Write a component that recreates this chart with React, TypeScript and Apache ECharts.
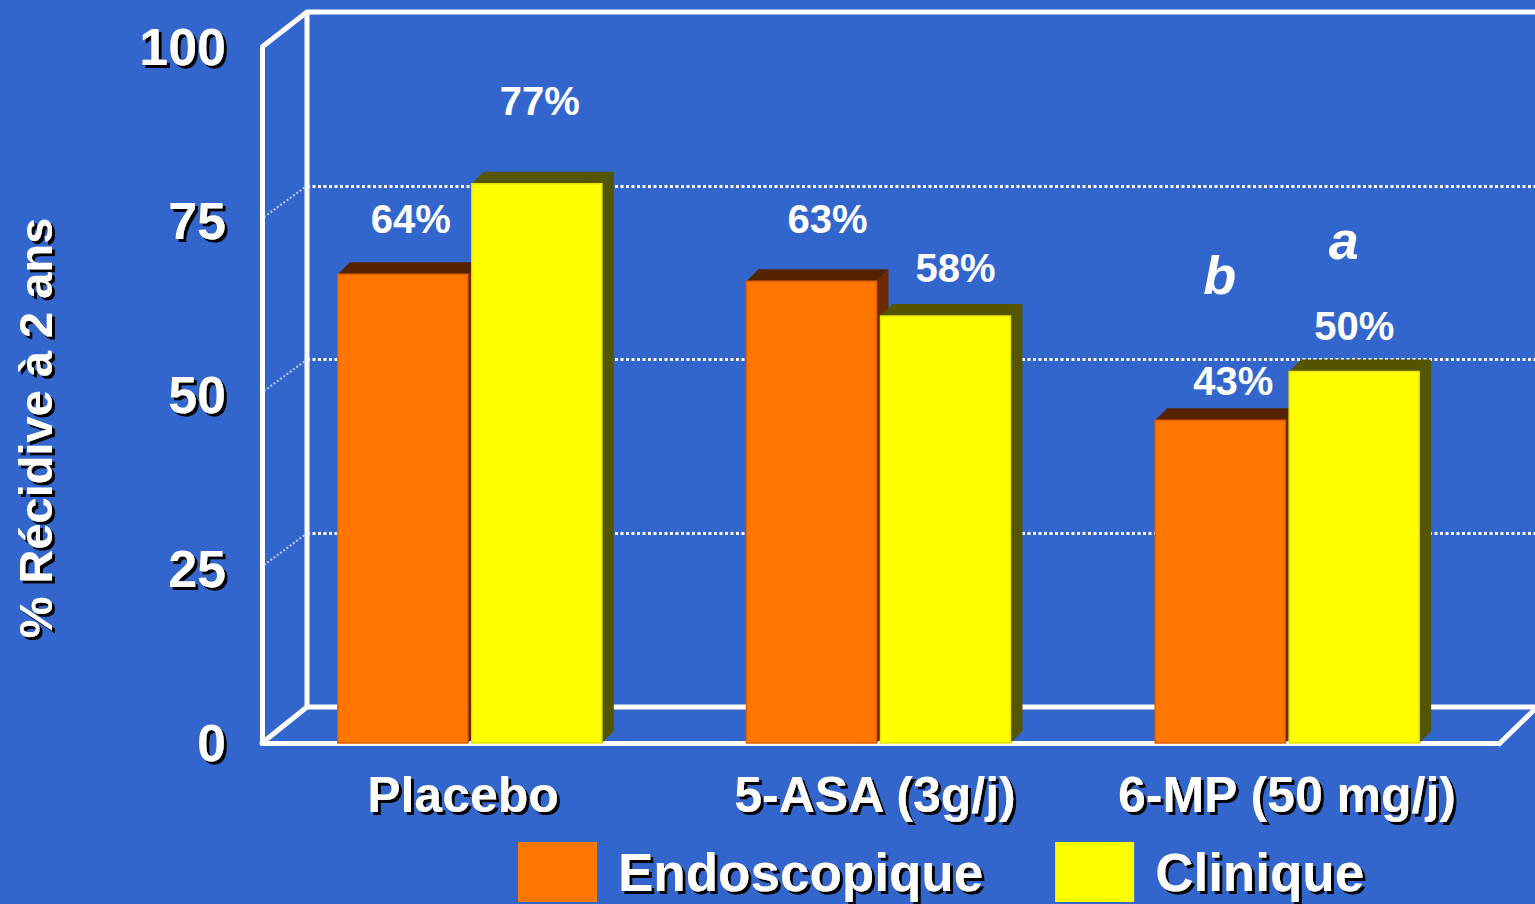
import React, { useEffect, useRef } from "react";
import * as echarts from "echarts";

// ---- data ----
const categories = ["Placebo", "5-ASA (3g/j)", "6-MP (50 mg/j)"];
const seriesNames = ["Endoscopique", "Clinique"];
const endoscopique = [64, 63, 43];
const clinique = [77, 58, 50];
const yMin = 0;
const yMax = 100;
const yInterval = 25;
const yAxisTitle = "% Récidive à 2 ans";
const annotations = [
  { text: "b", category: 2, series: 0 },
  { text: "a", category: 2, series: 1 },
];

// ---- label nudges (layout only) ----
const endoLabelDx = [8, 16, 13];
const endoLabelDy = [-55, -62, -39];
const clinLabelDx = [3, 10, 0];
const clinLabelDy = [-83, -48, -46];

const FONT = "'Liberation Sans', Arial, Helvetica, sans-serif";
const BG = "#3366CC";
const shadow = { textShadowColor: "#000", textShadowOffsetX: 3, textShadowOffsetY: 3, textShadowBlur: 1 };

const BAR_W = 130;
const DEPTH = 12;
const FRONT_DROP = 36;

const colors = [
  { front: "#FF7700", top: "#552200", side: "#6B2A00", edge: "#E25E00" },
  { front: "#FFFF00", top: "#555500", side: "#555500", edge: "#E6E600" },
];

function makeRender(s: number, dxs: number[], dys: number[]) {
  return (params: any, api: any) => {
    const ci = api.value(0);
    const v = api.value(1);
    const [cx, backY] = api.coord([ci, v]);
    const ty = backY + DEPTH; // back edge of the top face sits at the value on the back wall
    const by = api.coord([ci, 0])[1] + FRONT_DROP;
    const left = s === 0 ? cx - BAR_W - 1.5 : cx + 2.5;
    const c = colors[s];
    const w = BAR_W;
    const d = DEPTH;
    return {
      type: "group",
      children: [
        {
          type: "polygon",
          shape: { points: [[left + w, ty], [left + w + d, ty - d], [left + w + d, by - d], [left + w, by]] },
          style: { fill: c.side },
        },
        {
          type: "polygon",
          shape: { points: [[left, ty], [left + d, ty - d], [left + w + d, ty - d], [left + w, ty]] },
          style: { fill: c.top },
        },
        {
          type: "rect",
          shape: { x: left, y: ty, width: w, height: by - ty },
          style: { fill: c.front, stroke: c.edge, lineWidth: 1.5 },
        },
        {
          type: "text",
          x: left + w / 2 + dxs[ci],
          y: ty + dys[ci],
          style: {
            text: v + "%",
            fill: "#fff",
            fontSize: 40,
            fontWeight: "bold",
            fontFamily: FONT,
            align: "center",
            verticalAlign: "middle",
          },
        },
      ],
    };
  };
}

export default function App() {
  const ref = useRef<HTMLDivElement>(null);
  useEffect(() => {
    if (!ref.current) return;
    const chart = echarts.init(ref.current, undefined, { renderer: "svg" });

    // layout constants
    const backL = 307, backT = 12, backB = 707, right = 1535;
    const frontL = 262, frontT = 47, frontB = 743, frontR = 1498;
    const frame = { stroke: "#fff", lineWidth: 5, lineJoin: "round" };

    const yFront = (v: number) => frontB - ((frontB - frontT) * v) / (yMax - yMin);
    const yBack = (v: number) => backB - ((backB - backT) * v) / (yMax - yMin);
    const diagTicks: number[] = [];
    for (let v = yMin + yInterval; v < yMax; v += yInterval) diagTicks.push(v);

    const barCenterX = (ci: number) => 265 + (1226 / categories.length) * (ci + 0.5);

    chart.setOption({
      animation: false,
      backgroundColor: BG,
      grid: [
        { left: 265, top: backT, width: 1226, height: backB - backT }, // bars
        { left: backL, top: backT, width: right - backL, height: backB - backT }, // back wall
        { left: frontL, top: frontT, width: frontR - frontL, height: frontB - frontT }, // front axes
      ],
      xAxis: [
        { gridIndex: 0, type: "category", data: categories, show: false },
        { gridIndex: 1, type: "category", data: categories, show: false },
        {
          gridIndex: 2,
          type: "category",
          data: categories,
          axisLine: { show: true, lineStyle: { color: "#fff", width: 5 } },
          axisTick: { show: false },
          axisLabel: {
            interval: 0,
            color: "#fff",
            fontSize: 50,
            fontWeight: "bold",
            fontFamily: FONT,
            margin: 27,
            padding: [0, 10, 0, 0],
            ...shadow,
          },
        },
      ],
      yAxis: [
        { gridIndex: 0, type: "value", min: yMin, max: yMax, show: false },
        {
          gridIndex: 1,
          type: "value",
          min: yMin,
          max: yMax,
          interval: yInterval,
          axisLine: { show: false },
          axisTick: { show: false },
          axisLabel: { show: false },
          splitLine: { show: true, lineStyle: { color: "#fff", width: 3, type: [3, 2.5] } },
        },
        {
          gridIndex: 2,
          type: "value",
          min: yMin,
          max: yMax,
          interval: yInterval,
          axisLine: { show: true, lineStyle: { color: "#fff", width: 5 } },
          axisTick: { show: false },
          splitLine: { show: false },
          axisLabel: {
            color: "#fff",
            fontSize: 52,
            fontWeight: "bold",
            fontFamily: FONT,
            margin: 36,
            ...shadow,
          },
        },
      ],
      legend: {
        left: 518,
        top: 842,
        itemWidth: 79,
        itemHeight: 60,
        itemGap: 72,
        icon: "rect",
        padding: 0,
        data: seriesNames,
        itemStyle: { borderWidth: 0 },
        textStyle: {
          color: "#fff",
          fontSize: 53,
          fontWeight: "bold",
          fontFamily: FONT,
          padding: [0, 0, 0, 16],
          ...shadow,
        },
      },
      graphic: [
        // back wall frame
        {
          type: "polyline",
          z: 1,
          shape: { points: [[frontL, frontT], [backL, backT], [right, backT]] },
          style: frame,
        },
        {
          type: "polyline",
          z: 1,
          shape: { points: [[backL, backT], [backL, backB], [right, backB]] },
          style: frame,
        },
        {
          type: "polyline",
          z: 1,
          shape: { points: [[frontL, frontB], [backL, backB]] },
          style: frame,
        },
        {
          type: "polyline",
          z: 1,
          shape: { points: [[frontR, frontB + 2], [right, backB + 2]] },
          style: frame,
        },
        // left wall dotted diagonals
        ...diagTicks.map((v) => ({
          type: "line",
          z: 1,
          shape: { x1: frontL + 2, y1: yFront(v) - 4, x2: backL, y2: yBack(v) },
          style: { stroke: "rgba(230,240,255,0.75)", lineWidth: 2, lineDash: [2, 2] },
        })),
        // y-axis title
        {
          type: "text",
          x: 35,
          y: 428,
          rotation: Math.PI / 2,
          z: 5,
          style: {
            text: yAxisTitle,
            fill: "#fff",
            fontSize: 47,
            fontWeight: "bold",
            fontFamily: FONT,
            align: "center",
            verticalAlign: "middle",
            textShadowColor: "#000",
            textShadowOffsetX: -3,
            textShadowOffsetY: 3,
            textShadowBlur: 1,
          },
        },
        // annotations a / b
        ...annotations.map((a) => ({
          type: "text",
          x: barCenterX(a.category) + (a.series === 0 ? -67 : 57),
          y: a.series === 0 ? 275 : 240,
          z: 5,
          style: {
            text: a.text,
            fill: "#fff",
            fontSize: 54,
            fontWeight: "bold",
            fontStyle: "italic",
            fontFamily: FONT,
            align: "center",
            verticalAlign: "middle",
          },
        })),
      ],
      series: [
        {
          name: seriesNames[0],
          type: "custom",
          xAxisIndex: 0,
          yAxisIndex: 0,
          z: 3,
          itemStyle: { color: colors[0].front },
          renderItem: makeRender(0, endoLabelDx, endoLabelDy),
          encode: { x: 0, y: 1 },
          data: endoscopique.map((v, i) => [i, v]),
        },
        {
          name: seriesNames[1],
          type: "custom",
          xAxisIndex: 0,
          yAxisIndex: 0,
          z: 4,
          itemStyle: { color: colors[1].front },
          renderItem: makeRender(1, clinLabelDx, clinLabelDy),
          encode: { x: 0, y: 1 },
          data: clinique.map((v, i) => [i, v]),
        },
      ],
    });
    return () => chart.dispose();
  }, []);
  return (
    <div
      ref={ref}
      style={{ position: "fixed", left: 0, top: 0, width: 1535, height: 904, background: BG }}
    />
  );
}
